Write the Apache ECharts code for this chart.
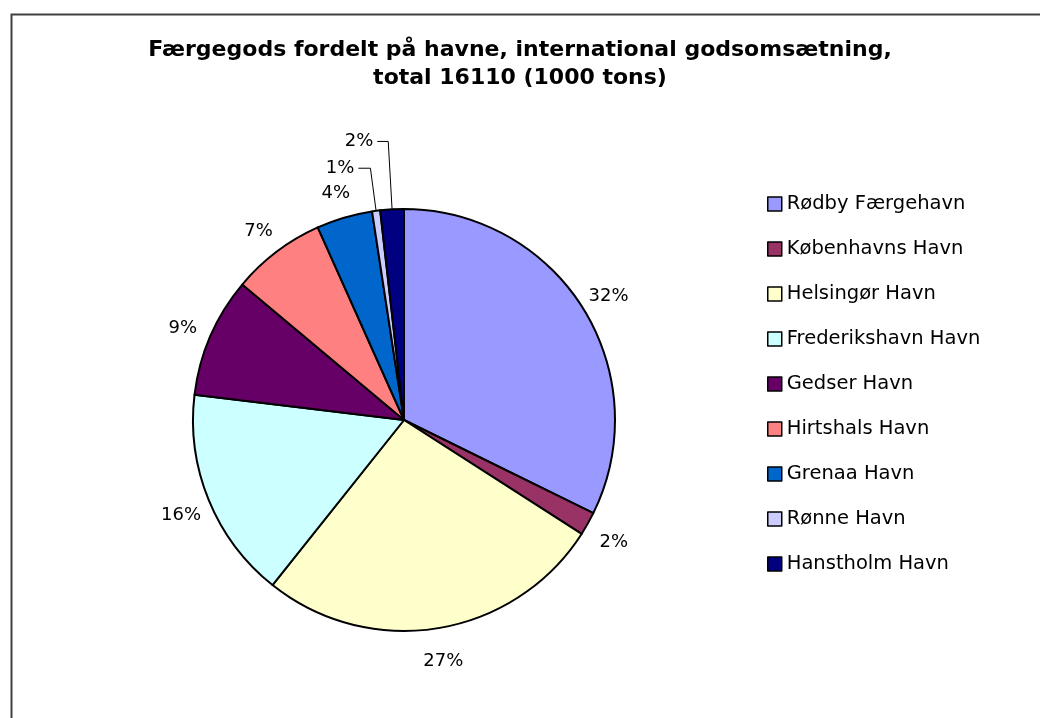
<!DOCTYPE html>
<html>
<head>
<meta charset="utf-8">
<script src="https://cdn.jsdelivr.net/npm/echarts@6/dist/echarts.min.js"></script>
<style>
html,body{margin:0;padding:0;background:#fff;}
#chart{width:1040px;height:718px;}
</style>
</head>
<body>
<div id="chart"></div>
<script>
const titleText = 'Færgegods fordelt på havne, international godsomsætning,\ntotal 16110 (1000 tons)';
const categories = ['Rødby Færgehavn','Københavns Havn','Helsingør Havn','Frederikshavn Havn','Gedser Havn','Hirtshals Havn','Grenaa Havn','Rønne Havn','Hanstholm Havn'];
const values = [5200, 290, 4290, 2610, 1480, 1160, 690, 100, 290];
const colors = ['#9999FF','#993366','#FFFFCC','#CCFFFF','#660066','#FF8080','#0066CC','#CCCCFF','#000080'];

// labels drawn with leader lines (index -> line lengths)
const leaderLabels = {7: {length: 43, length2: 12}, 8: {length: 68, length2: 11}};

const FONT = '"DejaVu Sans", Verdana, sans-serif';
const pctFmt = p => Math.round(p.percent) + '%';

const mainData = categories.map((n, i) => {
  const d = {name: n, value: values[i], itemStyle: {color: colors[i]}};
  if (leaderLabels[i]) {
    d.label = {show: true};
    d.labelLine = {show: true, length: leaderLabels[i].length, length2: leaderLabels[i].length2};
  }
  return d;
});
const labelData = categories.map((n, i) => {
  const d = {name: n, value: values[i]};
  if (leaderLabels[i]) d.label = {show: false};
  return d;
});

const chart = echarts.init(document.getElementById('chart'), null, {renderer: 'canvas'});
chart.setOption({
  animation: false,
  backgroundColor: '#fff',
  title: {
    text: titleText,
    left: 'center',
    top: 31,
    textStyle: {fontFamily: FONT, fontWeight: 'bold', fontSize: 22, lineHeight: 28, color: '#000'}
  },
  legend: {
    orient: 'vertical',
    left: 762,
    top: 189,
    itemWidth: 14,
    itemHeight: 14,
    itemGap: 25,
    icon: 'rect',
    data: categories,
    itemStyle: {borderColor: '#000', borderWidth: 1.5},
    textStyle: {fontFamily: FONT, fontSize: 19.5, lineHeight: 20, color: '#000'}
  },
  graphic: [{
    type: 'rect',
    left: 9, top: 12,
    shape: {width: 1100, height: 800},
    style: {fill: 'none', stroke: '#404040', lineWidth: 2},
    silent: true
  }],
  series: [
    {
      type: 'pie',
      center: [404, 420],
      radius: [0, 211],
      startAngle: 90,
      clockwise: true,
      avoidLabelOverlap: false,
      data: mainData,
      itemStyle: {borderColor: '#000', borderWidth: 2},
      label: {show: false, position: 'outside', formatter: pctFmt, fontFamily: FONT, fontSize: 18, color: '#000', distanceToLabelLine: 4},
      labelLine: {show: false, lineStyle: {color: '#000', width: 1}},
      emphasis: {disabled: true},
      silent: true
    },
    {
      type: 'pie',
      center: [404, 424],
      radius: [229, 247],
      startAngle: 90,
      clockwise: true,
      avoidLabelOverlap: false,
      data: labelData,
      itemStyle: {color: 'rgba(0,0,0,0)', borderWidth: 0},
      label: {show: true, position: 'inside', rotate: 0, formatter: pctFmt, fontFamily: FONT, fontSize: 18, color: '#000'},
      labelLine: {show: false},
      emphasis: {disabled: true},
      silent: true
    }
  ]
});
</script>
</body>
</html>
